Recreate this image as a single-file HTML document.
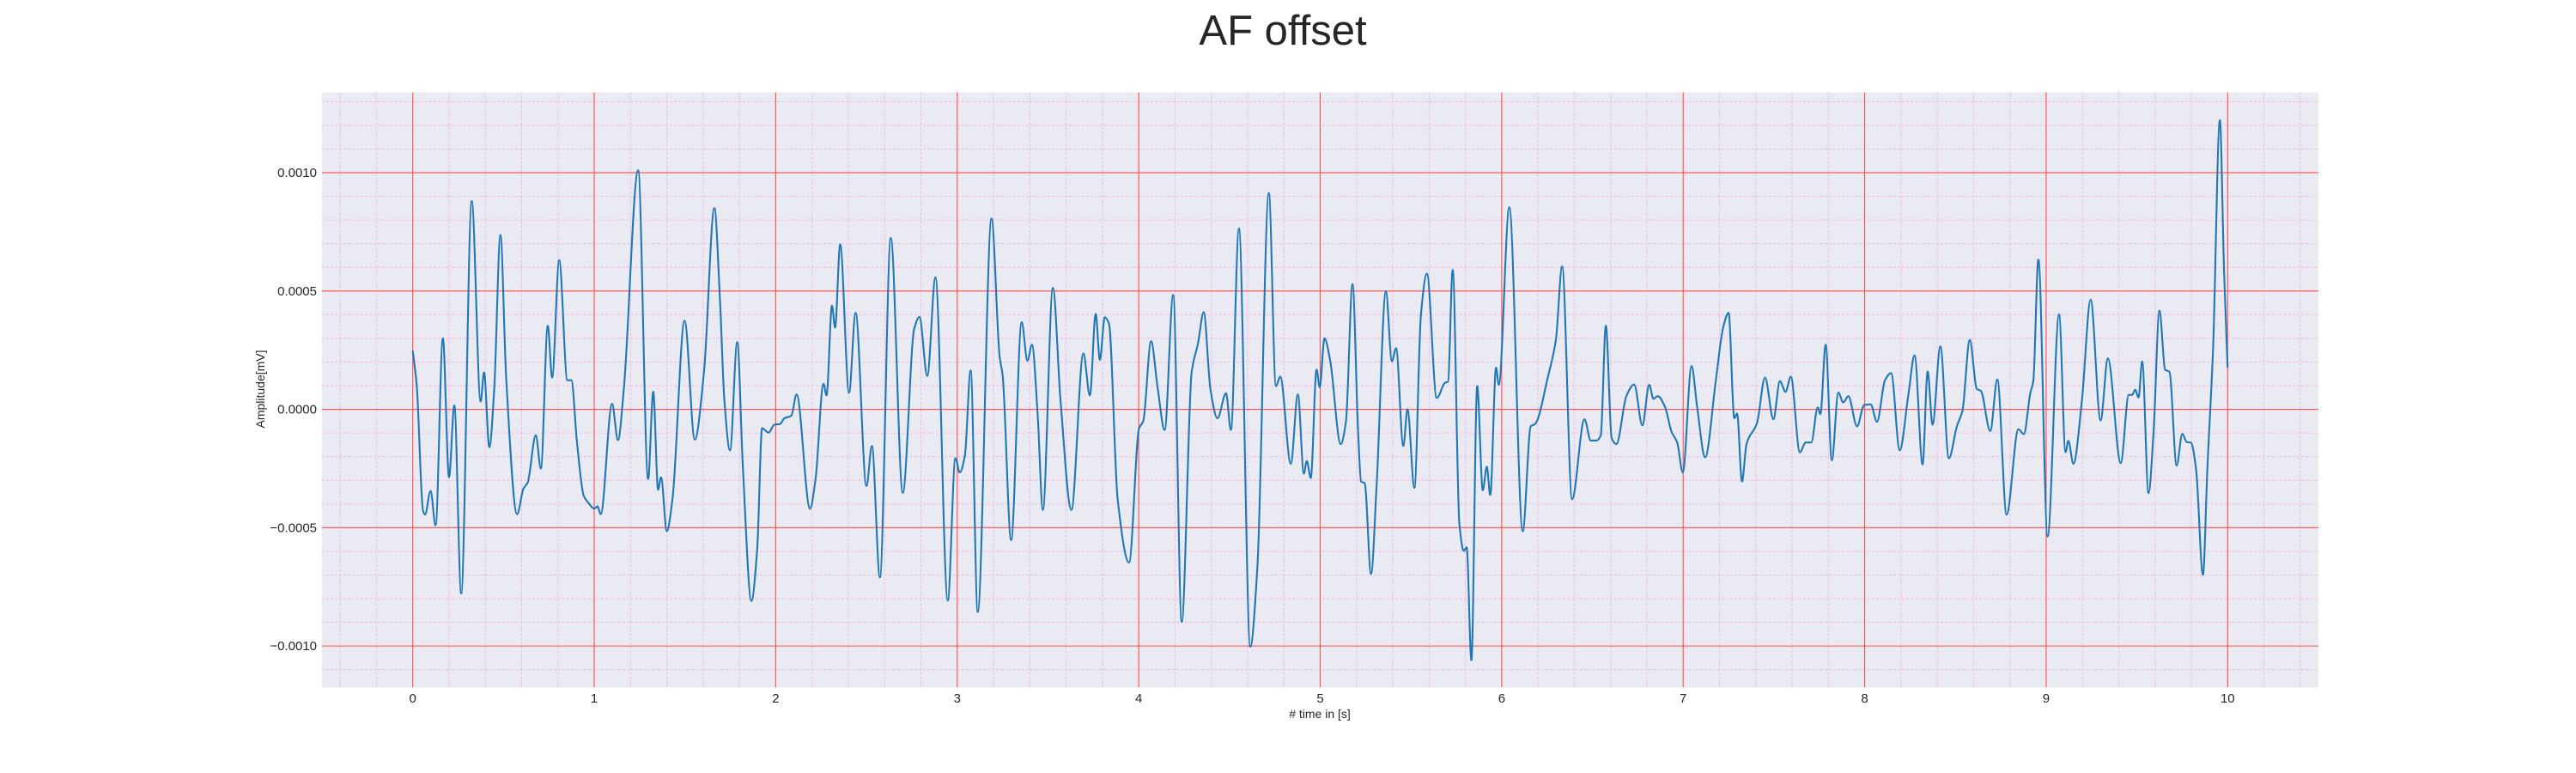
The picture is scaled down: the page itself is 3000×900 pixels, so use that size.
<!DOCTYPE html>
<html><head><meta charset="utf-8"><style>
html,body{margin:0;padding:0;background:#fff;}
svg{display:block;font-family:"Liberation Sans",sans-serif;}
</style></head><body>
<svg id="chart" width="3000" height="900" viewBox="0 0 3000 900" xmlns="http://www.w3.org/2000/svg">
<text x="1494" y="52" font-size="49" text-anchor="middle" fill="#262626">AF offset</text>
<rect x="375" y="107.5" width="2325" height="693" fill="#eaeaf2"/>
<g id="grid"></g>
<g id="ticks"></g>
<g id="series"></g>
<text x="1537" y="836" font-size="14" text-anchor="middle" fill="#262626"># time in [s]</text>
<text x="0" y="0" font-size="14" text-anchor="middle" fill="#262626" transform="translate(308,453) rotate(-90)">Amplitude[mV]</text>
</svg>
<script>
// data: time (s) and amplitude in units of 1e-4 mV
const times = [0,0.022,0.057,0.068,0.098,0.126,0.166,0.2,0.229,0.267,0.325,0.374,0.393,0.422,0.449,0.483,0.515,0.575,0.61,0.633,0.678,0.706,0.744,0.768,0.807,0.852,0.874,0.905,0.942,0.973,1.0,1.017,1.036,1.098,1.131,1.163,1.242,1.297,1.325,1.352,1.368,1.4,1.431,1.498,1.554,1.605,1.662,1.693,1.717,1.748,1.788,1.819,1.866,1.898,1.925,1.961,1.992,2.024,2.047,2.086,2.115,2.189,2.22,2.263,2.28,2.31,2.327,2.355,2.404,2.44,2.5,2.53,2.574,2.634,2.7,2.763,2.792,2.835,2.88,2.948,2.99,3.014,3.042,3.074,3.113,3.189,3.234,3.25,3.297,3.355,3.387,3.412,3.443,3.472,3.527,3.569,3.629,3.695,3.731,3.763,3.786,3.813,3.836,3.884,3.947,4.002,4.025,4.068,4.104,4.143,4.19,4.237,4.292,4.327,4.358,4.395,4.434,4.481,4.508,4.552,4.615,4.654,4.717,4.756,4.78,4.838,4.877,4.91,4.926,4.948,4.98,4.997,5.024,5.055,5.113,5.142,5.178,5.209,5.225,5.245,5.28,5.311,5.362,5.395,5.418,5.458,5.481,5.519,5.555,5.588,5.642,5.689,5.704,5.73,5.767,5.791,5.807,5.833,5.865,5.896,5.918,5.937,5.969,5.984,6.042,6.116,6.16,6.184,6.255,6.299,6.333,6.388,6.456,6.491,6.522,6.546,6.574,6.606,6.632,6.687,6.73,6.775,6.813,6.836,6.86,6.9,6.936,6.967,6.998,7.046,7.077,7.121,7.179,7.219,7.25,7.282,7.297,7.324,7.349,7.407,7.451,7.497,7.533,7.564,7.593,7.643,7.675,7.706,7.741,7.756,7.785,7.819,7.855,7.882,7.91,7.958,7.997,8.033,8.068,8.112,8.146,8.193,8.241,8.275,8.319,8.347,8.374,8.417,8.464,8.508,8.539,8.579,8.618,8.64,8.692,8.731,8.782,8.847,8.877,8.913,8.929,8.957,9.008,9.071,9.107,9.122,9.15,9.197,9.245,9.3,9.34,9.411,9.455,9.474,9.49,9.509,9.529,9.564,9.592,9.624,9.656,9.679,9.719,9.75,9.774,9.798,9.826,9.864,9.888,9.92,9.957,9.98,10.0];
const values = [2.48,1.0,-4.3,-4.45,-3.45,-4.9,3.0,-2.87,0.17,-7.78,8.8,0.33,1.56,-1.6,0.86,7.37,1.3,-4.43,-3.35,-3.1,-1.1,-2.5,3.53,1.34,6.3,1.23,1.23,-1.4,-3.65,-4.0,-4.2,-4.1,-4.43,0.23,-1.3,0.86,10.1,-2.94,0.74,-3.4,-2.87,-5.15,-3.8,3.75,-1.28,1.6,8.5,4.6,0.4,-1.74,2.84,-2.45,-8.1,-5.9,-0.8,-0.98,-0.65,-0.62,-0.38,-0.27,0.63,-4.2,-2.9,1.08,0.59,4.38,3.45,6.97,0.7,4.08,-3.24,-1.55,-7.1,7.24,-3.53,3.4,3.9,1.41,5.58,-8.08,-2.07,-2.67,-1.97,1.64,-8.56,8.06,2.2,1.46,-5.53,3.68,2.06,2.73,-0.2,-4.25,5.13,0.4,-4.25,2.36,0.59,4.04,2.09,3.89,3.63,-3.8,-6.47,-0.8,-0.5,2.88,0.93,-0.87,4.83,-8.98,1.6,2.8,4.11,0.86,-0.38,0.68,-0.87,7.64,-10.03,-6.65,9.14,0.98,1.38,-2.3,0.63,-2.72,-2.18,-2.9,1.68,0.93,3.0,2.06,-1.47,-0.5,5.29,-0.95,-3.05,-3.12,-6.95,-3.2,4.98,2.03,2.58,-1.55,0,-3.32,4.0,5.73,0.48,1.13,1.16,5.89,-4.85,-5.98,-5.83,-10.6,0.98,-3.42,-2.42,-3.62,1.76,1.04,8.54,-5.15,-0.72,-0.62,1.38,2.96,6.04,-3.8,-0.42,-1.32,-1.32,-1.1,3.53,-1.22,-1.47,0.56,1.05,-0.68,1.04,0.44,0.56,0.1,-0.95,-1.4,-2.67,1.83,0.1,-2.03,1.16,3.41,4.08,-0.38,-0.17,-3.05,-1.47,-0.57,1.34,-0.42,1.19,0.74,1.38,-1.82,-1.4,-1.4,0.08,-0.2,2.73,-2.15,0.71,0.29,0.56,-0.72,0.18,0.21,-0.53,1.23,1.53,-1.73,0.63,2.28,-2.33,1.6,-0.65,2.66,-2.07,-0.72,-0.05,2.93,0.86,0.78,-0.92,1.26,-4.45,-0.84,-1.05,0.7,1.18,6.33,-5.37,4.01,-1.81,-1.33,-2.3,0.37,4.63,-0.47,2.15,-2.27,0.61,0.61,0.83,0.5,2.02,-3.54,-0.92,4.17,1.67,1.59,-2.38,-1.04,-1.38,-1.41,-2.54,-6.99,-2.54,2.64,12.22,5.87,1.75];
const xTicks = [0,1,2,3,4,5,6,7,8,9,10];
const yTicks = [-0.001,-0.0005,0,0.0005,0.001];
const yTickLabels = ["\u22120.0010","\u22120.0005","0.0000","0.0005","0.0010"];

const NS = "http://www.w3.org/2000/svg";
const PL = 375, PR = 2700, PT = 107.5, PB = 800.5;
const XMIN = -0.5, XMAX = 10.5, YMIN = -0.0011756, YMAX = 0.0013394;
function xs(t){ return PL + (t - XMIN) / (XMAX - XMIN) * (PR - PL); }
function ys(v){ return PB - (v - YMIN) / (YMAX - YMIN) * (PB - PT); }
function mk(tag, attrs, parent){ const e = document.createElementNS(NS, tag); for (const k in attrs) e.setAttribute(k, attrs[k]); parent.appendChild(e); return e; }

const grid = document.getElementById('grid');
for (let i = -2; i <= 52; i++) {
  const t = i * 0.2;
  if (t < XMIN || t > XMAX || i % 5 === 0) continue;
  const l = mk('line', {x1: xs(t), x2: xs(t), y1: PT, y2: PB, stroke: '#f2b6e4', 'stroke-width': 1, 'stroke-dasharray': '3,2'}, grid);
  
  
}
for (let i = -11; i <= 13; i++) {
  const v = i * 0.0001;
  if (i % 5 === 0) continue;
  const l = mk('line', {x1: PL, x2: PR, y1: ys(v), y2: ys(v), stroke: '#f2b6e4', 'stroke-width': 1, 'stroke-dasharray': '3,2'}, grid);
  
  
}
const ticks = document.getElementById('ticks');
xTicks.forEach(t => {
  const l = mk('line', {x1: xs(t), x2: xs(t), y1: PT, y2: PB, stroke: '#ff4d4d', 'stroke-width': 1.1}, grid);
  
  
  const tx = mk('text', {x: xs(t), y: 818, 'font-size': 15, 'text-anchor': 'middle', fill: '#262626'}, ticks);
  tx.textContent = String(t);
  
  
});
yTicks.forEach((v, i) => {
  const l = mk('line', {x1: PL, x2: PR, y1: ys(v), y2: ys(v), stroke: '#ff4d4d', 'stroke-width': 1.1}, grid);
  
  
  const tx = mk('text', {x: 369, y: ys(v) + 5, 'font-size': 15, 'text-anchor': 'end', fill: '#262626'}, ticks);
  tx.textContent = yTickLabels[i];
  
  
});

// monotone cubic interpolation through the data points
const X = times.map(xs), Y = values.map(v => ys(v * 1e-4));
const n = X.length, m = new Array(n), dl = [];
for (let i = 0; i < n - 1; i++) dl.push((Y[i+1] - Y[i]) / (X[i+1] - X[i]));
m[0] = dl[0]; m[n-1] = dl[n-2];
for (let i = 1; i < n - 1; i++) {
  if (dl[i-1] * dl[i] <= 0) m[i] = 0;
  else { const w1 = 2*(X[i+1]-X[i]) + (X[i]-X[i-1]), w2 = (X[i+1]-X[i]) + 2*(X[i]-X[i-1]); m[i] = (w1 + w2) / (w1/dl[i-1] + w2/dl[i]); }
}
let d = 'M' + X[0].toFixed(2) + ',' + Y[0].toFixed(2);
for (let i = 0; i < n - 1; i++) {
  const h = (X[i+1] - X[i]) / 3;
  d += 'C' + (X[i]+h).toFixed(2) + ',' + (Y[i]+m[i]*h).toFixed(2) + ' ' + (X[i+1]-h).toFixed(2) + ',' + (Y[i+1]-m[i+1]*h).toFixed(2) + ' ' + X[i+1].toFixed(2) + ',' + Y[i+1].toFixed(2);
}
const series = document.getElementById('series');
const path = mk('path', {d: d, fill: 'none', stroke: '#1f77b4', 'stroke-width': 2.1, 'stroke-linejoin': 'round'}, series);


</script>
</body></html>
